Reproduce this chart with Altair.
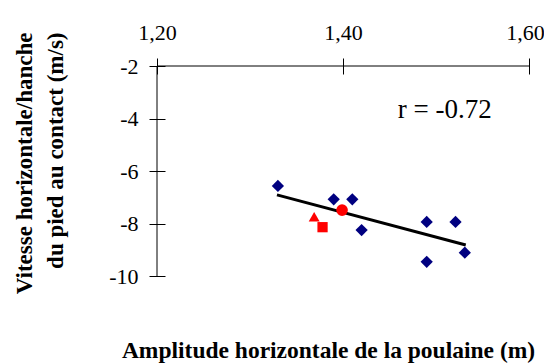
import altair as alt
import pandas as pd

# Data
diamond_x = [1.330, 1.390, 1.410, 1.420, 1.490, 1.521, 1.490, 1.531]
diamond_y = [-6.57, -7.08, -7.08, -8.25, -7.94, -7.94, -9.46, -9.11]

red_x = [1.399, 1.369, 1.378]
red_y = [-7.49, -7.74, -8.14]
red_kind = ["rond", "triangle", "carre"]

trend_x = [1.329, 1.532]
trend_y = [-6.91, -8.82]

x_ticks = [1.20, 1.40, 1.60]
y_ticks = [-10, -8, -6, -4, -2]

r_label = "r = -0.72"
r_pos_x = [1.459]
r_pos_y = [-3.98]

x_title = "Amplitude horizontale de la poulaine (m)"
y_title = ["Vitesse horizontale/hanche", "du pied au contact (m/s)"]

kinds = ["losange", "rond", "triangle", "carre"]

pts = pd.DataFrame({
    "x": diamond_x + red_x,
    "y": diamond_y + red_y,
    "kind": ["losange"] * len(diamond_x) + red_kind,
})
trend = pd.DataFrame({"x": trend_x, "y": trend_y})
rtext = pd.DataFrame({"x": r_pos_x, "y": r_pos_y, "t": [r_label]})

FONT = "Liberation Serif"

xscale = alt.Scale(domain=[1.2, 1.6], nice=False, zero=False)
yscale = alt.Scale(domain=[-10, -2], nice=False, zero=False)

xaxis = alt.Axis(
    orient="top", values=x_ticks, offset=-8, tickSize=16, domain=False, grid=False,
    tickColor="black", tickWidth=1, labelFlush=False, labelOverlap=False,
    labelExpr="replace(format(datum.value, '.2f'), '.', ',')",
    labelFont=FONT, labelFontSize=22, labelColor="black",
    labelBaseline="alphabetic", labelPadding=19,
    labelOffset={"condition": {"test": "datum.value > 1.5", "value": -4}, "value": 0},
    title=x_title, titleFont=FONT, titleFontSize=23.5, titleFontWeight="bold",
    titleColor="black", titleX=171, titleY=283, titleBaseline="alphabetic",
    titleAnchor="middle", titleAlign="center",
)
yaxis = alt.Axis(
    orient="left", values=y_ticks, offset=-8, tickSize=16, domain=False, grid=False,
    tickColor="black", tickWidth=1, labelFlush=False, labelOverlap=False,
    labelExpr="datum.value + ''",
    labelFont=FONT, labelFontSize=22, labelColor="black", labelPadding=11,
    title=y_title, titleFont=FONT, titleFontSize=23, titleFontWeight="bold",
    titleColor="black", titleAngle=-90, titleAlign="right", titleBaseline="top",
    titleX=-152, titleY=-34, titleLineHeight=31,
)

one = alt.Data(values=[{"a": 1}])

hline = alt.Chart(one).mark_rule(color="black", strokeWidth=1).encode(
    x=alt.datum(1.2, scale=xscale, axis=xaxis),
    x2=alt.datum(1.6),
    y=alt.datum(-2, scale=yscale, axis=yaxis),
)
vline = alt.Chart(one).mark_rule(color="black", strokeWidth=1).encode(
    x=alt.datum(1.2),
    y=alt.datum(-2),
    y2=alt.datum(-10),
)

line = alt.Chart(trend).mark_line(color="black", strokeWidth=3).encode(
    x=alt.X("x:Q"), y=alt.Y("y:Q")
)

points = alt.Chart(pts).mark_point(filled=True, opacity=1).encode(
    x=alt.X("x:Q"),
    y=alt.Y("y:Q"),
    shape=alt.Shape("kind:N", scale=alt.Scale(
        domain=kinds, range=["diamond", "circle", "triangle-up", "square"]), legend=None),
    color=alt.Color("kind:N", scale=alt.Scale(
        domain=kinds, range=["#000080", "#FF0000", "#FF0000", "#FF0000"]), legend=None),
    size=alt.Size("kind:N", scale=alt.Scale(
        domain=kinds, range=[150, 105, 210, 121]), legend=None),
)

txt = alt.Chart(rtext).mark_text(
    font=FONT, fontSize=27, align="left", baseline="alphabetic", color="black"
).encode(x="x:Q", y="y:Q", text="t:N")

chart = alt.layer(hline, vline, line, points, txt).properties(
    width=372, height=210,
    autosize=alt.AutoSizeParams(type="none"),
    padding={"left": 149, "top": 58, "right": 15, "bottom": 87},
    background="white",
).configure_view(stroke=None)

chart.save("out.html", embed_options={"renderer": "svg", "actions": False})
